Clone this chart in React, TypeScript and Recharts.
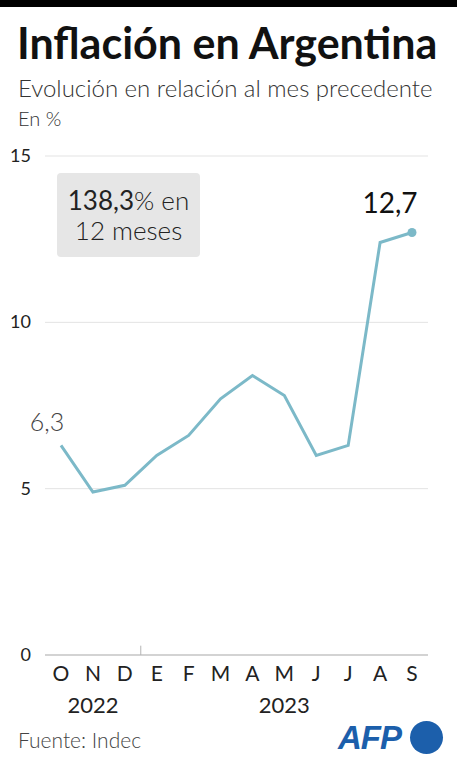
import React from 'react';
import { LineChart, Line, XAxis, YAxis, CartesianGrid, ReferenceLine } from 'recharts';

const months = ['O', 'N', 'D', 'E', 'F', 'M', 'A', 'M', 'J', 'J', 'A', 'S'];
const inflation = [6.3, 4.9, 5.1, 6.0, 6.6, 7.7, 8.4, 7.8, 6.0, 6.3, 12.4, 12.7];
const yearLabels = [
  { label: '2022', at: 1 },
  { label: '2023', at: 7 },
];
const yTicks = [0, 5, 10, 15];

const data = inflation.map((v, i) => ({ i, v }));

const FONT = 'Lato, "Open Sans", sans-serif';
const LINE = '#7cb9c8';

const MonthTick = (props: any) => {
  const { x, y, payload } = props;
  const year = yearLabels.find((d) => d.at === payload.value);
  return (
    <g>
      <text x={x} y={y + 18} textAnchor="middle" fontSize={21} fill="#222" fontFamily={FONT}>
        {months[payload.value]}
      </text>
      {year && (
        <text x={x} y={y + 50} textAnchor="middle" fontSize={22} fill="#222" fontFamily={FONT}>
          {year.label}
        </text>
      )}
    </g>
  );
};

const ValueTick = (props: any) => {
  const { y, payload } = props;
  return (
    <text x={31} y={y + 6} textAnchor="end" fontSize={18} fill="#222" fontFamily={FONT}>
      {payload.value}
    </text>
  );
};

const EndLabel = (props: any) => {
  const { x, y, index } = props;
  if (index === 0) {
    return (
      <text x={x - 14} y={y - 14} textAnchor="middle" fontSize={25} fill="#444" fontWeight={300} fontFamily={FONT}>
        {String(inflation[0]).replace('.', ',')}
      </text>
    );
  }
  if (index === inflation.length - 1) {
    return (
      <text x={x - 22} y={y - 20} textAnchor="middle" fontSize={28} fill="#111" fontFamily={FONT}>
        {String(inflation[index]).replace('.', ',')}
      </text>
    );
  }
  return null;
};

const LastDot = (props: any) => {
  const { cx, cy, index } = props;
  if (index !== inflation.length - 1) return null;
  return <circle cx={cx} cy={cy} r={4.5} fill={LINE} />;
};

export default function App() {
  return (
    <div style={{ position: 'absolute', left: 0, top: 0, width: 457, height: 768, background: '#fff', fontFamily: FONT, overflow: 'hidden' }}>
      <div style={{ position: 'absolute', left: 0, top: 0, width: 457, height: 7, background: '#000' }} />
      <div style={{ position: 'absolute', left: 17, top: 17, fontSize: 43, fontWeight: 700, color: '#111', whiteSpace: 'nowrap', lineHeight: '52px' }}>
        Inflación en Argentina
      </div>
      <div style={{ position: 'absolute', left: 18, top: 73, fontSize: 24, fontWeight: 300, color: '#333', whiteSpace: 'nowrap', lineHeight: '30px' }}>
        Evolución en relación al mes precedente
      </div>
      <div style={{ position: 'absolute', left: 18, top: 105, fontSize: 20, fontWeight: 300, color: '#333', whiteSpace: 'nowrap', lineHeight: '26px' }}>
        En %
      </div>

      <div style={{ position: 'absolute', left: 0, top: 0 }}>
        <LineChart width={457} height={768} data={data} margin={{ top: 156, right: 29, bottom: 0, left: 0 }}>
          <CartesianGrid horizontal vertical={false} stroke="#e3e3e3" />
          <XAxis
            dataKey="i"
            type="number"
            domain={[0, 11]}
            ticks={months.map((_, i) => i)}
            padding={{ left: 16, right: 16 }}
            tick={<MonthTick />}
            tickLine={false}
            axisLine={{ stroke: '#b5b5b5' }}
            height={113}
          />
          <YAxis
            domain={[0, 15]}
            ticks={yTicks}
            width={45}
            tick={<ValueTick />}
            tickLine={false}
            axisLine={false}
          />
          <ReferenceLine
            segment={[{ x: 2.5, y: 0 }, { x: 2.5, y: 0.28 }]}
            stroke="#b5b5b5"
            strokeWidth={1}
          />
          <Line
            type="linear"
            dataKey="v"
            stroke={LINE}
            strokeWidth={3}
            dot={<LastDot />}
            activeDot={false}
            label={<EndLabel />}
            isAnimationActive={false}
          />
        </LineChart>
      </div>

      <div style={{ position: 'absolute', left: 57, top: 173, width: 143, height: 84, background: '#e6e6e6', borderRadius: 4, textAlign: 'center', color: '#222' }}>
        <div style={{ marginTop: 12, fontSize: 26, lineHeight: '30px', whiteSpace: 'nowrap' }}>
          138,3<span style={{ fontWeight: 300 }}>% en</span>
        </div>
        <div style={{ fontSize: 26, lineHeight: '30px', fontWeight: 300, whiteSpace: 'nowrap' }}>12 meses</div>
      </div>

      <div style={{ position: 'absolute', left: 18, top: 727, fontSize: 21, fontWeight: 300, color: '#444', whiteSpace: 'nowrap', lineHeight: '26px' }}>
        Fuente: Indec
      </div>
      <div style={{ position: 'absolute', left: 338, top: 718, fontSize: 33, fontWeight: 700, fontStyle: 'italic', color: '#1c5fab', fontFamily: '"Liberation Sans", sans-serif', lineHeight: '40px', letterSpacing: -1 }}>
        AFP
      </div>
      <div style={{ position: 'absolute', left: 410, top: 721, width: 33, height: 33, borderRadius: '50%', background: '#1c5fab' }} />
    </div>
  );
}
